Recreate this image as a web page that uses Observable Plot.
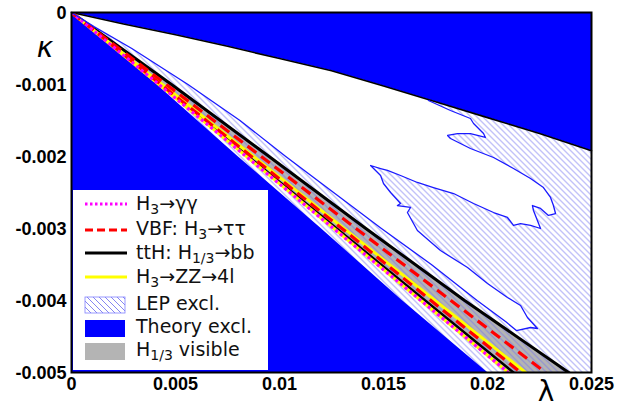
<!DOCTYPE html>
<html>
<head>
<meta charset="utf-8">
<script src="https://cdn.jsdelivr.net/npm/d3@7"></script>
<script src="https://cdn.jsdelivr.net/npm/@observablehq/plot@0.6"></script>
<style>
  html, body { margin: 0; padding: 0; background: white; }
  svg { display: block; }
</style>
</head>
<body>
<div id="chart"></div>
<script>
// ---------- data (λ, κ) ----------
const xTicks = [0, 0.005, 0.01, 0.015, 0.02, 0.025];
const xTickLabels = ["0", "0.005", "0.01", "0.015", "0.02", "0.025"];
const yTicks = [0, -0.001, -0.002, -0.003, -0.004, -0.005];
const yTickLabels = ["0", "-0.001", "-0.002", "-0.003", "-0.004", "-0.005"];

// upper theory boundary (black-edged curve)
const upperLam = [0, 0.0025, 0.005, 0.0075, 0.01, 0.0125, 0.015, 0.0175, 0.02, 0.0225, 0.025];
const upperKap = [0, -0.00016, -0.00031, -0.00047, -0.00064, -0.00081, -0.00102, -0.00124, -0.00146, -0.00168, -0.00192];

// lower theory boundary
const lowerKap = [0, -0.001, -0.002, -0.003, -0.004, -0.005];
const lowerLam = [0, 0.0041, 0.0080, 0.0120, 0.0159, 0.0200];

// signal contours: λ at κ levels
const kLevels = [0, -0.001, -0.002, -0.003, -0.004, -0.005];
const lamMagenta   = [0, 0.0042, 0.0084, 0.0126, 0.0168, 0.0210];
const lamBlackLow  = [0, 0.00425, 0.0085, 0.01275, 0.0170, 0.02125];
const lamYellowLow = [0, 0.00421, 0.00842, 0.01262, 0.0168, 0.0210];
const lamRedLow    = [0, 0.0043, 0.00865, 0.0130, 0.01728, 0.0216];
const lamYellowHigh= [0, 0.00437, 0.00875, 0.0131, 0.01748, 0.02183];
const lamRedHigh   = [0, 0.00456, 0.00912, 0.01368, 0.01824, 0.02279];
const lamBlackHigh = [0, 0.00481, 0.0095, 0.01415, 0.0189, 0.0239];

// LEP-allowed (white) pocket outline
const allowedLam = [0, 0.01716,
  0.01716, 0.01822, 0.01918, 0.01933, 0.01981, 0.01990, 0.01952, 0.01918, 0.01856, 0.01808, 0.01822,
  0.01918, 0.02029, 0.02125, 0.02207, 0.02269, 0.02303, 0.02317, 0.02327, 0.02293, 0.02255, 0.02216,
  0.02221, 0.02255,
  0.02207, 0.02159, 0.02125, 0.02096, 0.02029, 0.01933, 0.01837, 0.0174, 0.01663, 0.01582, 0.01519,
  0.01486, 0.01438,
  0.01462, 0.01486, 0.015, 0.01534, 0.01582, 0.01567, 0.0163, 0.01615, 0.01663, 0.01774, 0.01904,
  0.02, 0.02096, 0.02159, 0.02192, 0.0224, 0.02207, 0.02139,
  0.0209, 0.0195, 0.0173, 0.0149, 0.0126, 0.0103, 0.0081, 0.0056, 0.0029, 0.0011, 0];
const allowedKap = [0, 0,
  -0.001222, -0.001361, -0.001472, -0.001542, -0.001681, -0.001736, -0.001708, -0.001681, -0.001681, -0.001708, -0.00175,
  -0.001889, -0.002014, -0.002167, -0.002306, -0.002431, -0.002569, -0.002681, -0.002792, -0.002819, -0.002722, -0.002681,
  -0.00275, -0.003,
  -0.002958, -0.002931, -0.002958, -0.002847, -0.002778, -0.002653, -0.002514, -0.002431, -0.002361, -0.002264, -0.002194,
  -0.002167, -0.002125,
  -0.002194, -0.002264, -0.002375, -0.0025, -0.002653, -0.002681, -0.002708, -0.002778, -0.003028, -0.003306, -0.003542,
  -0.003764, -0.003958, -0.004069, -0.004236, -0.004389, -0.004375, -0.004417,
  -0.0043, -0.004, -0.0035, -0.003, -0.0025, -0.002, -0.0015, -0.001, -0.0005, -0.0002, 0];

const legendLabels = [
  [["H"], ["3", 1], ["→γγ"]],
  [["VBF: H"], ["3", 1], ["→ττ"]],
  [["ttH: H"], ["1/3", 1], ["→bb"]],
  [["H"], ["3", 1], ["→ZZ→4l"]],
  [["LEP excl."]],
  [["Theory excl."]],
  [["H"], ["1/3", 1], [" visible"]]
];

// ---------- build tables ----------
const upper = upperLam.map((l, i) => ({l, k: upperKap[i]}));
const lower = lowerLam.map((l, i) => ({l, k: lowerKap[i]}));
const band = kLevels.map((k, i) => ({k, lo: lamMagenta[i], hi: lamBlackHigh[i]}));
const curve = arr => kLevels.map((k, i) => ({k, l: arr[i]}));
const allowed = allowedLam.map((l, i) => ({l, k: allowedKap[i]}));
const outline = allowed.slice(2);

const BLUE = "#0000ff";

const plot = Plot.plot({
  width: 631,
  height: 409,
  marginLeft: 71,
  marginRight: 40,
  marginTop: 12,
  marginBottom: 37,
  style: {fontFamily: "'Liberation Sans', Arial, sans-serif", fontSize: "18px", background: "white", color: "black"},
  x: {domain: [0, 0.025], label: null, axis: null},
  y: {domain: [-0.005, 0], label: null, axis: null},
  marks: [
    Plot.areaX(band, {y: "k", x1: "lo", x2: "hi", fill: "#b4b4b4"}),
    Plot.frame({fill: "url(#lephatch)", stroke: "none"}),
    Plot.line(allowed, {x: "l", y: "k", fill: "white", stroke: "none"}),
    Plot.areaY(upper, {x: "l", y1: "k", y2: 0, fill: BLUE}),
    Plot.areaX(lower, {y: "k", x1: 0, x2: "l", fill: BLUE}),
    Plot.line(upper, {x: "l", y: "k", stroke: "black", strokeWidth: 1.6}),
    Plot.line(curve(lamBlackLow), {x: "l", y: "k", stroke: "black", strokeWidth: 2.5, clip: true}),
    Plot.line(curve(lamBlackHigh), {x: "l", y: "k", stroke: "black", strokeWidth: 3, clip: true}),
    Plot.line(curve(lamYellowLow), {x: "l", y: "k", stroke: "#ffff00", strokeWidth: 3, clip: true}),
    Plot.line(curve(lamYellowHigh), {x: "l", y: "k", stroke: "#ffff00", strokeWidth: 3, clip: true}),
    Plot.line(curve(lamRedLow), {x: "l", y: "k", stroke: "#ff0000", strokeWidth: 3.2, strokeDasharray: "11,6", strokeLinecap: "butt", clip: true}),
    Plot.line(curve(lamRedHigh), {x: "l", y: "k", stroke: "#ff0000", strokeWidth: 3.2, strokeDasharray: "11,6", strokeLinecap: "butt", clip: true}),
    Plot.line(curve(lamMagenta), {x: "l", y: "k", stroke: "#ff00ff", strokeWidth: 3.2, strokeDasharray: "3,3", strokeLinecap: "butt", clip: true}),
    Plot.line(outline, {x: "l", y: "k", stroke: "#1a1aff", strokeWidth: 1.3, clip: true}),
    Plot.frame({stroke: "black", strokeWidth: 2}),
    Plot.axisX(xTicks, {tickSize: 0, tickPadding: 5, fontWeight: "bold", fontSize: 18, tickFormat: d => xTickLabels[xTicks.indexOf(d)], label: null}),
    Plot.axisY(yTicks, {tickSize: 0, tickPadding: 5, fontWeight: "bold", fontSize: 18, dy: 1, tickFormat: d => yTickLabels[yTicks.indexOf(d)], label: null})
  ]
});

const svg = d3.select(plot);
svg.insert("defs", ":first-child").html(
  '<pattern id="lephatch" patternUnits="userSpaceOnUse" width="6" height="6">' +
  '<path d="M-1,-1 L7,7 M-1,5 L1,7 M5,-1 L7,1" stroke="#7070ee" stroke-width="0.85" fill="none"/></pattern>'
);

// axis titles
svg.append("text").attr("x", 45).attr("y", 57).attr("text-anchor", "middle")
  .attr("font-family", "'DejaVu Sans', sans-serif").attr("font-style", "italic").attr("font-size", 28).text("κ");
svg.append("text").attr("x", 546).attr("y", 401).attr("text-anchor", "middle")
  .attr("font-family", "'DejaVu Sans', sans-serif").attr("font-size", 28).text("λ");

// legend
const lg = svg.append("g").attr("font-family", "'DejaVu Sans', sans-serif").attr("font-size", 19).attr("text-anchor", "start");
lg.append("rect").attr("x", 73).attr("y", 190).attr("width", 195).attr("height", 180).attr("fill", "white");
const baselines = [210, 235, 259, 283, 310, 333, 356];
const symY = [204, 230, 253, 277];
lg.append("line").attr("x1", 85).attr("x2", 127).attr("y1", symY[0]).attr("y2", symY[0])
  .attr("stroke", "#ff00ff").attr("stroke-width", 3).attr("stroke-dasharray", "2.5,2.5");
lg.append("line").attr("x1", 85).attr("x2", 127).attr("y1", symY[1]).attr("y2", symY[1])
  .attr("stroke", "#ff0000").attr("stroke-width", 3).attr("stroke-dasharray", "8,4");
lg.append("line").attr("x1", 85).attr("x2", 127).attr("y1", symY[2]).attr("y2", symY[2])
  .attr("stroke", "black").attr("stroke-width", 3);
lg.append("line").attr("x1", 85).attr("x2", 127).attr("y1", symY[3]).attr("y2", symY[3])
  .attr("stroke", "#ffff00").attr("stroke-width", 3);
lg.append("rect").attr("x", 85).attr("y", 297).attr("width", 40).attr("height", 16)
  .attr("fill", "url(#lephatch)").attr("stroke", "#8080ff").attr("stroke-width", 0.8);
lg.append("rect").attr("x", 85).attr("y", 320).attr("width", 40).attr("height", 17).attr("fill", BLUE);
lg.append("rect").attr("x", 85).attr("y", 343).attr("width", 40).attr("height", 17).attr("fill", "#b4b4b4");
legendLabels.forEach((segs, i) => {
  const t = lg.append("text").attr("x", 136).attr("y", baselines[i]).attr("fill", "#111").attr("text-anchor", "start");
  let shifted = false;
  segs.forEach(([s, sub]) => {
    const sp = t.append("tspan").text(s);
    if (sub) { sp.attr("font-size", 14).attr("dy", 4); shifted = true; }
    else if (shifted) { sp.attr("dy", -4); shifted = false; }
  });
});

document.getElementById("chart").appendChild(plot);
</script>
</body>
</html>
